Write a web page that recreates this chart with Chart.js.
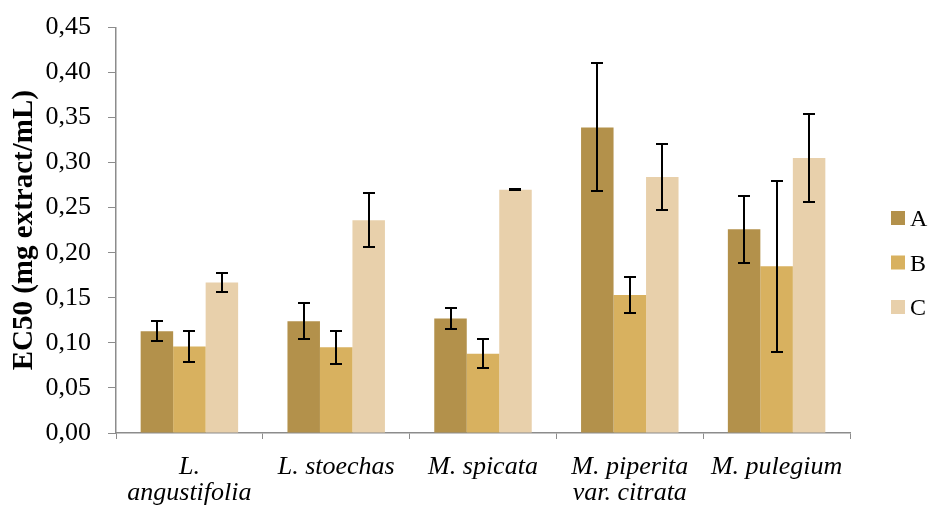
<!DOCTYPE html>
<html>
<head>
<meta charset="utf-8">
<script src="https://cdn.jsdelivr.net/npm/chart.js@4"></script>
<style>
  html, body { margin: 0; padding: 0; background: #fff; }
  canvas { display: block; }
</style>
</head>
<body>
<canvas id="chart" width="929" height="506"></canvas>
<script>
const categories = [
  ['L.', 'angustifolia'],
  'L. stoechas',
  'M. spicata',
  ['M. piperita', 'var. citrata'],
  'M. pulegium'
];
const seriesNames = ['A', 'B', 'C'];
const valuesA = [0.113, 0.124, 0.127, 0.339, 0.226];
const valuesB = [0.096, 0.095, 0.088, 0.153, 0.185];
const valuesC = [0.167, 0.236, 0.270, 0.284, 0.305];
const errorsA = [0.011, 0.020, 0.012, 0.071, 0.037];
const errorsB = [0.017, 0.018, 0.016, 0.020, 0.095];
const errorsC = [0.011, 0.030, 0.0005, 0.037, 0.049];
const colors = ['#b3914b', '#d8b15f', '#e8d0ab'];

const serif = "'Liberation Serif', 'Times New Roman', serif";

// error bars, drawn on top of the bars
const errorBars = {
  id: 'errorBars',
  afterDatasetsDraw(chart) {
    const ctx = chart.ctx;
    const y = chart.scales.y;
    ctx.save();
    ctx.strokeStyle = '#000';
    ctx.lineWidth = 2;
    chart.data.datasets.forEach((ds, i) => {
      const meta = chart.getDatasetMeta(i);
      meta.data.forEach((bar, j) => {
        const v = ds.data[j], e = ds.errors[j];
        const top = Math.round(y.getPixelForValue(v + e));
        const bot = Math.round(y.getPixelForValue(v - e));
        const x = Math.round(bar.x);
        ctx.beginPath();
        ctx.moveTo(x, top); ctx.lineTo(x, bot);
        ctx.moveTo(x - 6, top); ctx.lineTo(x + 6, top);
        ctx.moveTo(x - 6, bot); ctx.lineTo(x + 6, bot);
        ctx.stroke();
      });
    });
    ctx.restore();
  }
};

// legend on the right
const sideLegend = {
  id: 'sideLegend',
  afterDraw(chart) {
    const ctx = chart.ctx;
    ctx.save();
    ctx.font = '24px ' + serif;
    ctx.textBaseline = 'alphabetic';
    chart.data.datasets.forEach((ds, i) => {
      const cy = 218 + i * 44.5;
      ctx.fillStyle = ds.backgroundColor;
      ctx.fillRect(891, cy - 7, 14, 14);
      ctx.fillStyle = '#000';
      ctx.fillText(ds.label, 910, cy + 8);
    });
    ctx.restore();
  }
};

new Chart(document.getElementById('chart'), {
  type: 'bar',
  data: {
    labels: categories,
    datasets: [
      { label: seriesNames[0], data: valuesA, errors: errorsA, backgroundColor: colors[0] },
      { label: seriesNames[1], data: valuesB, errors: errorsB, backgroundColor: colors[1] },
      { label: seriesNames[2], data: valuesC, errors: errorsC, backgroundColor: colors[2] }
    ]
  },
  options: {
    responsive: false,
    animation: false,
    devicePixelRatio: 1,
    layout: { padding: { top: 14, right: 79, left: 0, bottom: 0 } },
    datasets: { bar: { barPercentage: 1, categoryPercentage: 0.664 } },
    plugins: {
      legend: { display: false },
      tooltip: { enabled: false }
    },
    scales: {
      x: {
        grid: { display: true, drawOnChartArea: false, offset: true, color: '#8c8c8c', tickLength: 6 },
        border: { color: '#8c8c8c', width: 1.5 },
        ticks: {
          color: '#000',
          font: { family: serif, size: 26, style: 'italic', lineHeight: 1.0 },
          padding: 15,
          maxRotation: 0,
          autoSkip: false
        },
        afterFit(scale) { scale.height = 73; }
      },
      y: {
        min: 0,
        max: 0.45,
        grid: { display: true, drawOnChartArea: false, color: '#8c8c8c', tickLength: 8 },
        border: { color: '#8c8c8c', width: 1.5 },
        ticks: {
          stepSize: 0.05,
          color: '#000',
          font: { family: serif, size: 26, lineHeight: 0.8 },
          padding: 17,
          callback: v => v.toFixed(2).replace('.', ',')
        },
        title: {
          display: true,
          text: 'EC50 (mg extract/mL)',
          color: '#000',
          font: { family: serif, size: 29, weight: 'bold', lineHeight: 1.2 },
          padding: { top: 7, bottom: 0 }
        },
        afterFit(scale) { scale.width = 116; }
      }
    }
  },
  plugins: [errorBars, sideLegend]
});
</script>
</body>
</html>
